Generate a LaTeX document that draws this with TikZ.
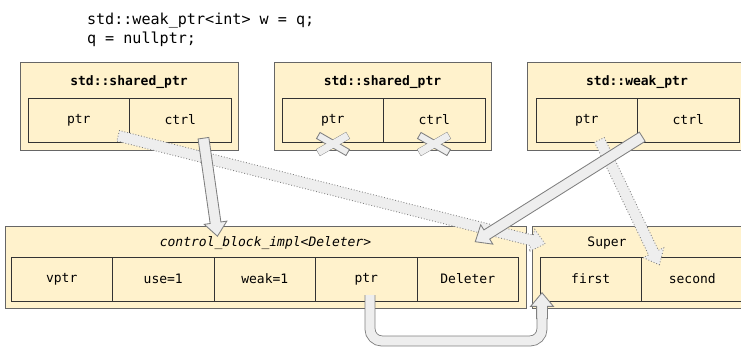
\documentclass[tikz,border=0pt]{standalone}
\usepackage{fontspec}
\setmonofont{DejaVu Sans Mono}
\usetikzlibrary{shapes.arrows,calc}

\definecolor{boxfill}{HTML}{FFF2CC}
\definecolor{boxline}{HTML}{666666}
\definecolor{arrfill}{HTML}{EEEEEE}
\definecolor{arrline}{HTML}{7F7F7F}

% block arrow from one named point to another
\newcommand{\fatarrow}[3][]{%
  \path let \p1=(#2), \p2=(#3), \n1={atan2(\y2-\y1,\x2-\x1)},
    \n2={veclen(\x2-\x1,\y2-\y1)} in
    node[fat, #1, rotate=\n1, minimum height=\n2] at ($(#2)!0.5!(#3)$) {};}

\begin{document}
\begin{tikzpicture}[x=1pt, y=-1pt, line width=0.85pt,
    every node/.style={font=\ttfamily\fontsize{13}{15}\selectfont, inner sep=0pt, outer sep=0pt},
    frame/.style={draw=boxline, fill=boxfill, anchor=north west},
    cell/.style={draw=black!80, fill=boxfill, minimum width=101.5pt, minimum height=44pt, anchor=north west},
    fat/.style={single arrow, draw=arrline, fill=arrfill, text height=0pt, text depth=0pt,
      inner xsep=0pt, inner ysep=5pt, single arrow head extend=6pt, single arrow tip angle=80, minimum width=0pt},
    ghost/.style={draw=arrline, dotted},
    arm/.style={rectangle, draw=arrline, fill=arrfill, minimum width=34pt, minimum height=7pt}
  ]
\useasboundingbox (0,0) rectangle (741,346);
\clip (0,0) rectangle (741,346);

\node[font=\ttfamily\fontsize{15.1}{18.5}\selectfont, align=left, anchor=north west] (code) at (87,13.5)
  {std::weak\_ptr<int> w = q;\\q = nullptr;};

% the three handles
\node[frame, minimum width=218pt, minimum height=88pt] (sp1) at (20,62) {};
\node[font=\ttfamily\bfseries\fontsize{13}{15}\selectfont] (sp1t) at (129,82) {std::shared\_ptr};
\node[cell] (sp1ptr) at (28,98) {ptr};
\node[cell] (sp1ctrl) at (129.5,98) {ctrl};

\node[frame, minimum width=217pt, minimum height=88pt] (sp2) at (274,62) {};
\node[font=\ttfamily\bfseries\fontsize{13}{15}\selectfont] (sp2t) at (382.5,82) {std::shared\_ptr};
\node[cell] (sp2ptr) at (282,98) {ptr};
\node[cell] (sp2ctrl) at (383.5,98) {ctrl};

\node[frame, minimum width=230pt, minimum height=88pt] (wp) at (527,62) {};
\node[font=\ttfamily\bfseries\fontsize{13}{15}\selectfont] (wpt) at (637,82) {std::weak\_ptr};
\node[cell] (wpptr) at (536,98) {ptr};
\node[cell] (wpctrl) at (637.5,98) {ctrl};

% control block and object
\node[frame, minimum width=521pt, minimum height=82pt] (cb) at (5,226) {};
\node[font=\ttfamily\itshape\fontsize{13}{15}\selectfont] (cbt) at (265.5,243) {control\_block\_impl<Deleter>};
\node[cell] (cbvptr) at (11,257) {vptr};
\node[cell] (cbuse) at (112.5,257) {use=1};
\node[cell] (cbweak) at (214,257) {weak=1};
\node[cell] (cbptr) at (315.5,257) {ptr};
\node[cell] (cbdel) at (417,257) {Deleter};

\node[frame, minimum width=220pt, minimum height=82pt] (sup) at (532,226) {};
\node (supt) at (607,243) {Super};
\node[cell] (supfirst) at (540,257) {first};
\node[cell] (supsecond) at (641.5,257) {second};

% arrow ends
\coordinate (a1) at (203,135); \coordinate (b1) at (217,233);
\coordinate (a2) at (115,135); \coordinate (b2) at (542,243);
\coordinate (a3) at (645,135); \coordinate (b3) at (478,240);
\coordinate (a4) at (598,137); \coordinate (b4) at (658,262);
\coordinate (u0) at (370,295); \coordinate (u1) at (370,341);
\coordinate (u2) at (542,341); \coordinate (u3) at (542,318);
\coordinate (u4) at (542,322); \coordinate (u5) at (542,296);
\coordinate (x1) at (333,144); \coordinate (x2) at (434,144);

\fatarrow[ghost]{a2}{b2}
\fatarrow{a1}{b1}
\fatarrow[ghost]{a4}{b4}
\fatarrow{a3}{b3}
\fatarrow{u4}{u5}
\draw[draw=arrline, double=arrfill, double distance=9.15pt, rounded corners=12pt]
  (u0) -- (u1) -- (u2) -- (u3);

% nulled pointers
\foreach \c in {x1,x2}{
  \node[arm, rotate=30] at (\c) {};
  \node[arm, rotate=-30] at (\c) {};
  \node[arm, draw=none, rotate=30] at (\c) {};
}
\end{tikzpicture}
\end{document}
